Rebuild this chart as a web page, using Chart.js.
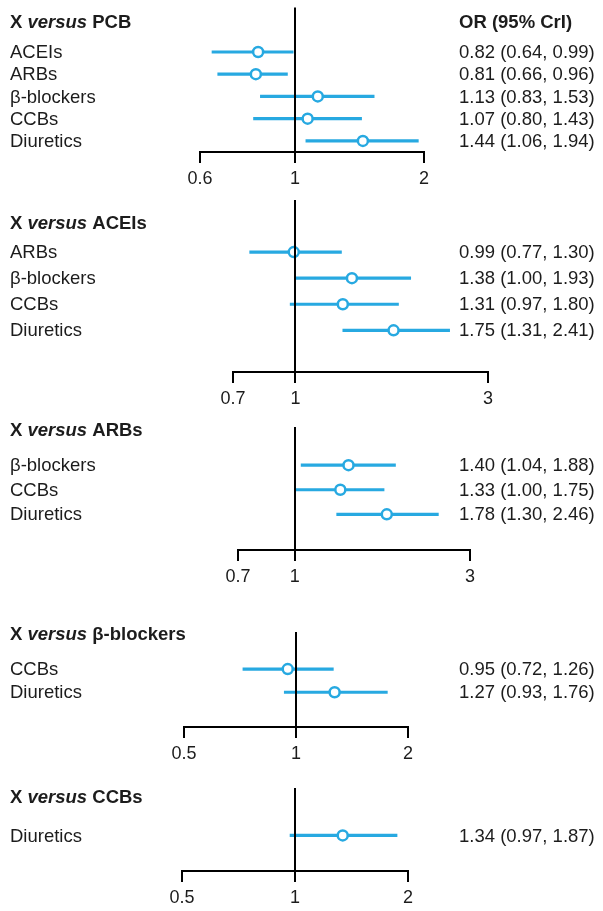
<!DOCTYPE html>
<html>
<head>
<meta charset="utf-8">
<script src="https://cdn.jsdelivr.net/npm/chart.js@4.4.0/dist/chart.umd.min.js"></script>
<style>
  body { margin: 0; background: #fff; }
  #wrap { position: relative; width: 603px; height: 911px; }
  #wrap canvas { position: absolute; left: 0; }
</style>
</head>
<body>
<div id="wrap"></div>
<script>
// X versus PCB
var pcbRows = ["ACEIs", "ARBs", "β-blockers", "CCBs", "Diuretics"];
var pcbOR = [0.82, 0.81, 1.13, 1.07, 1.44];
var pcbLo = [0.64, 0.66, 0.83, 0.80, 1.06];
var pcbHi = [0.99, 0.96, 1.53, 1.43, 1.94];
var pcbTicks = [0.6, 1, 2];

// X versus ACEIs
var aceiRows = ["ARBs", "β-blockers", "CCBs", "Diuretics"];
var aceiOR = [0.99, 1.38, 1.31, 1.75];
var aceiLo = [0.77, 1.00, 0.97, 1.31];
var aceiHi = [1.30, 1.93, 1.80, 2.41];
var aceiTicks = [0.7, 1, 3];

// X versus ARBs
var arbRows = ["β-blockers", "CCBs", "Diuretics"];
var arbOR = [1.40, 1.33, 1.78];
var arbLo = [1.04, 1.00, 1.30];
var arbHi = [1.88, 1.75, 2.46];
var arbTicks = [0.7, 1, 3];

// X versus beta-blockers
var bbRows = ["CCBs", "Diuretics"];
var bbOR = [0.95, 1.27];
var bbLo = [0.72, 0.93];
var bbHi = [1.26, 1.76];
var bbTicks = [0.5, 1, 2];

// X versus CCBs
var ccbRows = ["Diuretics"];
var ccbOR = [1.34];
var ccbLo = [0.97];
var ccbHi = [1.87];
var ccbTicks = [0.5, 1, 2];

var BLUE = "#27a9e1";
var INK = "#1c1c1c";
var FONT = "'Liberation Sans', Arial, sans-serif";

function orText(o, l, h) {
  return o.toFixed(2) + " (" + l.toFixed(2) + ", " + h.toFixed(2) + ")";
}

function drawTitle(ctx, x, y, ref) {
  ctx.save();
  ctx.fillStyle = INK;
  ctx.textBaseline = "middle";
  ctx.textAlign = "left";
  ctx.font = "bold 18.5px " + FONT;
  ctx.fillText("X ", x, y);
  x += ctx.measureText("X ").width;
  ctx.font = "italic bold 18.5px " + FONT;
  ctx.fillText("versus", x, y);
  x += ctx.measureText("versus").width;
  ctx.font = "bold 18.5px " + FONT;
  ctx.fillText(" " + ref, x, y);
  ctx.restore();
}

// reference line at OR = 1 plus all the texts
var forestText = {
  id: "forestText",
  afterDatasetsDraw: function (chart) {
    var xs = chart.scales.x, area = chart.chartArea, ctx = chart.ctx;
    var px = Math.round(xs.getPixelForValue(1));
    ctx.save();
    ctx.strokeStyle = "#000";
    ctx.lineWidth = 2;
    ctx.beginPath();
    ctx.moveTo(px, area.top);
    ctx.lineTo(px, area.bottom);
    ctx.stroke();
    ctx.restore();
  },
  afterDraw: function (chart, args, o) {
    var ctx = chart.ctx, ys = chart.scales.y;
    drawTitle(ctx, 10, o.titleY, o.ref);
    ctx.save();
    if (o.header) {
      ctx.fillStyle = INK;
      ctx.textBaseline = "middle";
      ctx.font = "bold 18.5px " + FONT;
      ctx.fillText("OR (95% CrI)", 459, o.titleY);
    }
    ctx.fillStyle = INK;
    ctx.textBaseline = "middle";
    ctx.textAlign = "left";
    ctx.font = "18.5px " + FONT;
    for (var i = 0; i < o.rows.length; i++) {
      var y = ys.getPixelForValue(i) + 1;
      ctx.fillText(o.rows[i], 10, y);
      ctx.fillText(orText(o.or[i], o.lo[i], o.hi[i]), 459, y);
    }
    ctx.restore();
  }
};

var wrap = document.getElementById("wrap");

function makePanel(cfg) {
  var canvas = document.createElement("canvas");
  canvas.width = 603;
  canvas.height = cfg.height;
  canvas.style.top = cfg.top + "px";
  wrap.appendChild(canvas);

  var idx = cfg.rows.map(function (r, i) { return i; });

  new Chart(canvas, {
    type: "bar",
    data: {
      datasets: [
        {
          type: "scatter",
          data: idx.map(function (i) { return { x: cfg.or[i], y: i }; }),
          pointRadius: 5,
          pointHoverRadius: 5,
          pointBorderWidth: 2.5,
          pointBorderColor: BLUE,
          pointBackgroundColor: "#fff",
          order: 0
        },
        {
          type: "bar",
          indexAxis: "y",
          data: idx.map(function (i) { return { x: [cfg.lo[i], cfg.hi[i]], y: i }; }),
          backgroundColor: BLUE,
          borderWidth: 0,
          barThickness: 2.5,
          order: 1
        }
      ]
    },
    options: {
      responsive: false,
      animation: false,
      layout: { padding: { left: cfg.left, right: 603 - cfg.right, top: cfg.padTop, bottom: 0 } },
      plugins: {
        legend: { display: false },
        tooltip: { enabled: false },
        forestText: {
          ref: cfg.ref, titleY: cfg.titleY, header: cfg.header,
          rows: cfg.rows, or: cfg.or, lo: cfg.lo, hi: cfg.hi
        }
      },
      scales: {
        x: {
          type: "logarithmic",
          offset: false,
          min: cfg.ticks[0],
          max: cfg.ticks[cfg.ticks.length - 1],
          afterBuildTicks: function (s) {
            s.ticks = cfg.ticks.map(function (v) { return { value: v }; });
          },
          afterFit: function (s) { s.height = 40; },
          border: { display: true, color: "#000", width: 2 },
          grid: { display: true, offset: false, drawOnChartArea: false, drawTicks: true, tickLength: 11, color: "#000", lineWidth: 2 },
          ticks: {
            color: INK,
            font: { family: FONT, size: 18 },
            padding: 5,
            maxRotation: 0,
            autoSkip: false,
            callback: function (v) { return String(v); }
          }
        },
        y: {
          type: "linear", reverse: true, offset: false,
          min: cfg.ymin, max: cfg.ymax, display: false,
          grid: { offset: false }
        }
      }
    },
    plugins: [forestText]
  });
}

makePanel({ ref: "PCB", header: true, top: 0, height: 192, padTop: 6, titleY: 22.5,
  left: 200, right: 424, ymin: -2, ymax: 4.5,
  rows: pcbRows, or: pcbOR, lo: pcbLo, hi: pcbHi, ticks: pcbTicks });

makePanel({ ref: "ACEIs", header: false, top: 192, height: 220, padTop: 8, titleY: 32,
  left: 233, right: 488, ymin: -2, ymax: 4.6,
  rows: aceiRows, or: aceiOR, lo: aceiLo, hi: aceiHi, ticks: aceiTicks });

makePanel({ ref: "ARBs", header: false, top: 412, height: 178, padTop: 15, titleY: 19,
  left: 238, right: 470, ymin: -1.55, ymax: 3.45,
  rows: arbRows, or: arbOR, lo: arbLo, hi: arbHi, ticks: arbTicks });

makePanel({ ref: "β-blockers", header: false, top: 590, height: 177, padTop: 42, titleY: 45,
  left: 184, right: 408, ymin: -1.6, ymax: 2.5,
  rows: bbRows, or: bbOR, lo: bbLo, hi: bbHi, ticks: bbTicks });

makePanel({ ref: "CCBs", header: false, top: 767, height: 144, padTop: 21, titleY: 31,
  left: 182, right: 408, ymin: -2, ymax: 1.5,
  rows: ccbRows, or: ccbOR, lo: ccbLo, hi: ccbHi, ticks: ccbTicks });
</script>
</body>
</html>
